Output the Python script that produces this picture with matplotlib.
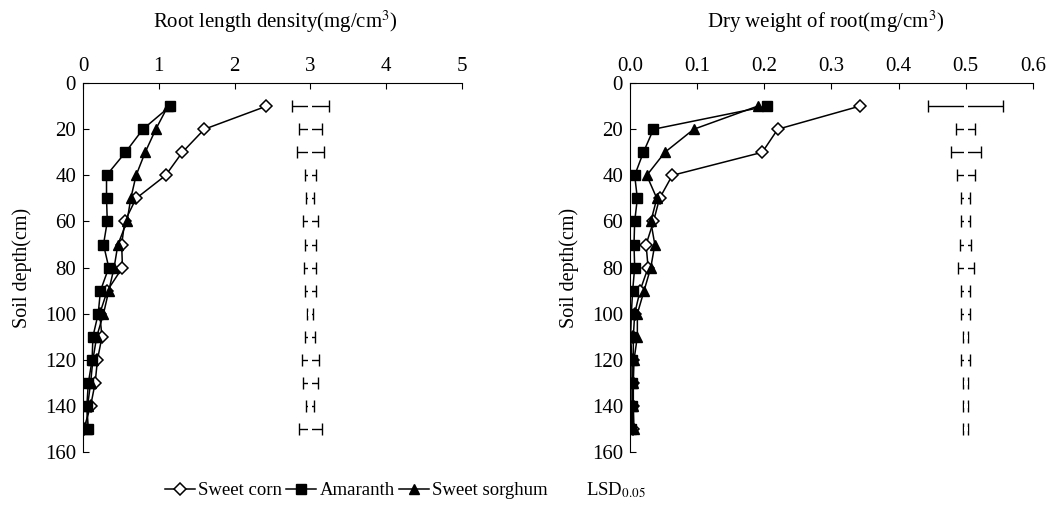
import numpy as np
import matplotlib
matplotlib.use("Agg")
import matplotlib.pyplot as plt
from matplotlib.lines import Line2D

plt.rcParams['font.family'] = ['Liberation Serif', 'DejaVu Serif']
plt.rcParams['mathtext.fontset'] = 'stix'

depth = [10, 20, 30, 40, 50, 60, 70, 80, 90, 100, 110, 120, 130, 140, 150]

# root length density
rld_corn = [2.42, 1.60, 1.31, 1.09, 0.70, 0.55, 0.51, 0.52, 0.32, 0.22, 0.25, 0.19, 0.16, 0.10, 0.01]
rld_amar = [1.15, 0.79, 0.56, 0.31, 0.31, 0.32, 0.27, 0.34, 0.23, 0.20, 0.13, 0.12, 0.07, 0.05, 0.07]
rld_sorg = [1.12, 0.96, 0.82, 0.70, 0.63, 0.58, 0.46, 0.41, 0.34, 0.27, 0.18, 0.13, 0.10, 0.06, 0.05]
rld_lsd = [0.24, 0.155, 0.18, 0.07, 0.053, 0.097, 0.07, 0.08, 0.078, 0.04, 0.065, 0.11, 0.10, 0.053, 0.155]

# dry weight of root
dw_corn = [0.342, 0.220, 0.197, 0.063, 0.044, 0.035, 0.024, 0.027, 0.015, 0.007, 0.005, 0.005, 0.004, 0.004, 0.004]
dw_amar = [0.204, 0.035, 0.020, 0.007, 0.011, 0.007, 0.006, 0.007, 0.004, 0.002, 0.001, 0.003, 0.003, 0.003, 0.002]
dw_sorg = [0.190, 0.095, 0.052, 0.025, 0.040, 0.031, 0.037, 0.031, 0.021, 0.011, 0.011, 0.006, 0.005, 0.005, 0.006]
dw_lsd = [0.0556, 0.0143, 0.022, 0.0136, 0.007, 0.007, 0.008, 0.012, 0.007, 0.007, 0.0037, 0.007, 0.0037, 0.0037, 0.0037]

fig = plt.figure(figsize=(10.51, 5.08), dpi=100)
ax1 = fig.add_axes([0.079, 0.110, 0.3606, 0.7264])
ax2 = fig.add_axes([0.5994, 0.110, 0.3834, 0.7264])

def draw(ax, corn, amar, sorg, lsd, lsd_x, xlim, xticks, xfmt):
    ax.plot(corn, depth, color='black', lw=1.1, marker='D', ms=6, mfc='white', mec='black', mew=1.1, label='Sweet corn')
    ax.plot(amar, depth, color='black', lw=1.1, marker='s', ms=7, mfc='black', mec='black', label='Amaranth')
    ax.plot(sorg, depth, color='black', lw=1.1, marker='^', ms=7.5, mfc='black', mec='black', label='Sweet sorghum')
    ax.errorbar([lsd_x] * len(depth), depth, xerr=lsd, fmt='none', ecolor='black', elinewidth=1.0, capsize=4, capthick=1.0)
    ax.plot([lsd_x] * len(depth), depth, ls='none', marker='s', ms=3, mfc='white', mec='white', mew=0)
    ax.set_xlim(*xlim)
    ax.set_ylim(160, 0)
    ax.set_xticks(xticks)
    ax.set_xticklabels([xfmt.format(v) for v in xticks])
    ax.set_yticks(range(0, 161, 20))
    ax.xaxis.tick_top()
    ax.spines['right'].set_visible(False)
    ax.spines['bottom'].set_visible(False)
    ax.tick_params(axis='both', direction='in', length=4, labelsize=15, pad=5)
    ax.tick_params(axis='x', top=True, bottom=False)
    ax.set_ylabel('Soil depth(cm)', fontsize=14.5, labelpad=9)

draw(ax1, rld_corn, rld_amar, rld_sorg, rld_lsd, 3.0, (0, 5), [0, 1, 2, 3, 4, 5], '{:g}')
draw(ax2, dw_corn, dw_amar, dw_sorg, dw_lsd, 0.5, (0, 0.6), [0.0, 0.1, 0.2, 0.3, 0.4, 0.5, 0.6], '{:.1f}')

fig.text(275 / 1051, 1 - 22 / 508, 'Root length density(mg/cm$^3$)', ha='center', va='center', fontsize=15)
fig.text(826 / 1051, 1 - 22 / 508, 'Dry weight of root(mg/cm$^3$)', ha='center', va='center', fontsize=15)

handles, labels = ax1.get_legend_handles_labels()
handles.append(Line2D([], [], ls='none'))
labels.append('LSD$_{0.05}$')
fig.legend(handles, labels, loc='center', bbox_to_anchor=(405 / 1051, 1 - 490 / 508), ncol=4,
           frameon=False, fontsize=13.5, handlelength=1.6, handletextpad=0.2, columnspacing=0.2,
           borderaxespad=0)

fig.savefig('out.png', dpi=100)
